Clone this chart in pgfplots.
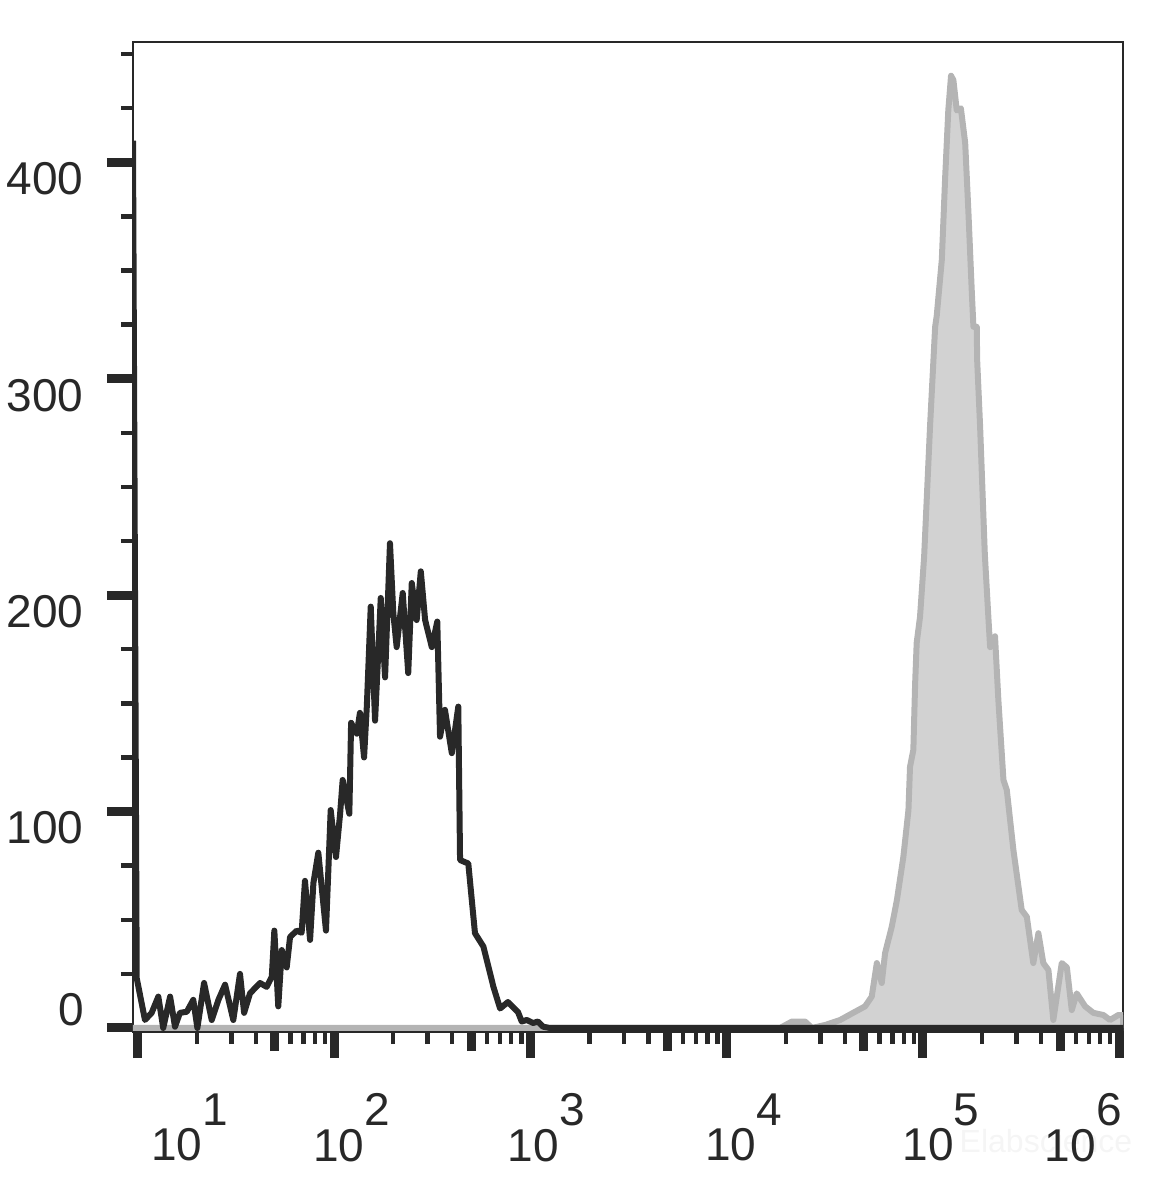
\documentclass[border=0pt]{standalone}
\usepackage{fontspec}
\setmainfont{Liberation Sans}
\usepackage{pgfplots}
\pgfplotsset{compat=1.18}
\definecolor{tc}{RGB}{40,40,40}
\definecolor{gfill}{RGB}{210,210,210}
\definecolor{gline}{RGB}{180,180,180}
\begin{document}
\begin{tikzpicture}
\node[text=black!4, font=\fontsize{16}{18}\selectfont] at (456.5pt,-54.5pt) {Elabscience};
\begin{axis}[
  at={(0,0)}, anchor=south west,
  scale only axis, width=495pt, height=495pt,
  xmin=0.976, xmax=6.019, ymin=-1.85, ymax=455.6,
  axis line style={line width=1pt, color=tc},
  tick align=outside, xtick pos=bottom, ytick pos=left,
  xtick={1,2,3,4,5,6},
  xticklabels={
    \makebox[0pt]{\hspace{52pt}10\raisebox{0.78em}{1}},
    \makebox[0pt]{\hspace{17.5pt}10\raisebox{0.78em}{2}},
    \makebox[0pt]{\hspace{16pt}10\raisebox{0.78em}{3}},
    \makebox[0pt]{\hspace{17pt}10\raisebox{0.78em}{4}},
    \makebox[0pt]{\hspace{18pt}10\raisebox{0.78em}{5}},
    \makebox[0pt]{\hspace{-36pt}10\raisebox{0.78em}{6}}},
  minor xtick={1.301,1.477,1.602,1.778,1.845,1.903,1.954,
               2.301,2.477,2.602,2.778,2.845,2.903,2.954,
               3.301,3.477,3.602,3.778,3.845,3.903,3.954,
               4.301,4.477,4.602,4.778,4.845,4.903,4.954,
               5.301,5.477,5.602,5.778,5.845,5.903,5.954},
  extra x ticks={1.699,2.699,3.699,4.699,5.699},
  extra x tick labels={},
  extra x tick style={major tick length=9.5pt, tick style={line width=3.2pt, color=tc}},
  ytick={0,100,200,300,400},
  yticklabels={\raisebox{17.25pt}[\height][\depth]{0},100,200,300,400},
  minor ytick={25,50,75,125,150,175,225,250,275,325,350,375,425,450},
  major tick length=13pt, minor tick length=6pt,
  major tick style={line width=4.5pt, color=tc},
  minor tick style={line width=2.2pt, color=tc},
  tick label style={font=\fontsize{23}{27}\selectfont, text=tc, inner sep=0pt},
  xticklabel style={anchor=north, yshift=-17.5pt},
  yticklabel style={anchor=east, xshift=-11.5pt, yshift=-8.25pt},
]
% gray (stained) histogram
\addplot[draw=gline, line width=3pt, fill=gfill, line join=round] coordinates {
(0.976,0) (4.272,0) (4.333,3) (4.399,3) (4.435,0) (4.506,1.5) (4.578,3.7)
(4.644,7) (4.705,10) (4.739,14.5) (4.765,30) (4.790,20.8) (4.807,34.6)
(4.841,46.8) (4.867,59) (4.900,79) (4.926,100.7) (4.934,120.7) (4.951,128.5)
(4.960,159) (4.968,178) (4.985,190) (5.006,218) (5.036,278) (5.062,324)
(5.070,329) (5.096,355) (5.113,393) (5.129,424) (5.143,440) (5.155,438)
(5.172,424) (5.193,425) (5.215,409) (5.231,378) (5.249,339.6) (5.257,324)
(5.274,324) (5.276,308.7) (5.291,278) (5.315,219) (5.333,190) (5.342,176)
(5.367,181) (5.384,151.6) (5.410,114.6) (5.427,110) (5.461,82) (5.503,54.5)
(5.529,51.4) (5.562,30) (5.588,43.8) (5.613,30) (5.639,26.8) (5.664,3.7)
(5.707,30) (5.733,28) (5.758,8.3) (5.783,16) (5.826,10) (5.868,7)
(5.919,6) (5.953,3.7) (5.995,6) (6.019,6)
} \closedcycle;
% black (control) histogram
\addplot[draw=tc, line width=3pt, line join=round] coordinates {
(0.976,410) (0.995,23) (1.037,3.7) (1.071,7) (1.105,14.5) (1.130,0)
(1.165,14.5) (1.190,0.6) (1.215,7) (1.250,7.5) (1.283,13) (1.304,0)
(1.338,20.8) (1.377,3.7) (1.411,13) (1.445,20) (1.487,3.7) (1.521,25)
(1.542,7) (1.572,16) (1.623,20.8) (1.657,19) (1.683,23.7) (1.696,45)
(1.716,10) (1.734,36) (1.759,28) (1.776,42) (1.810,45) (1.835,44)
(1.852,68) (1.878,40.7) (1.895,67) (1.920,81) (1.959,45) (1.983,100.7)
(2.010,79) (2.031,99) (2.044,114.6) (2.078,99) (2.087,141) (2.116,136)
(2.132,145.6) (2.153,125) (2.167,148.5) (2.187,194.7) (2.209,142)
(2.226,174.7) (2.238,198.7) (2.260,162) (2.285,224) (2.302,191.7)
(2.319,176) (2.350,201) (2.378,164) (2.396,205.6) (2.421,188.5)
(2.442,211) (2.464,188.5) (2.498,176) (2.526,187.8) (2.540,134.6)
(2.565,147) (2.600,127) (2.633,148.5) (2.642,77.6) (2.684,76)
(2.718,43.8) (2.761,37.6) (2.812,19) (2.846,9) (2.886,12) (2.937,7.4)
(2.956,3) (2.982,3.7) (3.014,2.3) (3.039,3) (3.065,0.6) (3.100,0) (6.019,0)
};
\end{axis}
\pgfresetboundingbox
\path (-66.5pt,-75pt) rectangle (512pt,516pt);
\end{tikzpicture}
\end{document}
